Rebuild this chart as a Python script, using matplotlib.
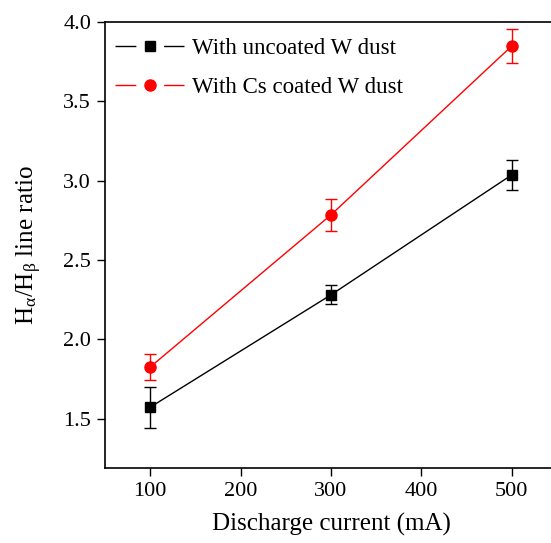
import matplotlib
matplotlib.use("Agg")
import matplotlib.pyplot as plt
from matplotlib.lines import Line2D

# discharge current (mA)
current = [100, 300, 500]

# Halpha/Hbeta line ratio, uncoated W dust
ratio_uncoated = [1.573, 2.281, 3.037]
err_uncoated = [0.13, 0.06, 0.095]

# Halpha/Hbeta line ratio, Cs coated W dust
ratio_cs = [1.826, 2.785, 3.849]
err_cs = [0.083, 0.10, 0.105]

labels = ["With uncoated W dust", "With Cs coated W dust"]

plt.rcParams['font.family'] = ['Liberation Serif', 'DejaVu Serif']
plt.rcParams['mathtext.fontset'] = 'custom'
plt.rcParams['mathtext.rm'] = 'Liberation Serif'
plt.rcParams['mathtext.it'] = 'Liberation Serif'

fig = plt.figure(figsize=(5.51, 5.43), dpi=100)
ax = fig.add_axes([105 / 551, 1 - 468 / 543, 452 / 551, 446 / 543])

ax.errorbar(current, ratio_uncoated, yerr=err_uncoated, color='black', marker='s',
            markersize=7, lw=1, capsize=4.5, elinewidth=1, capthick=1)
ax.errorbar(current, ratio_cs, yerr=err_cs, color='red', marker='o',
            markersize=8, lw=1, capsize=4.5, elinewidth=1, capthick=1)

ax.set_xlim(50, 550)
ax.set_ylim(1.19, 4.0)
ax.set_xticks([100, 200, 300, 400, 500])
ax.set_yticks([1.5, 2.0, 2.5, 3.0, 3.5, 4.0])
ax.yaxis.set_major_formatter(matplotlib.ticker.FormatStrFormatter('%.1f'))
ax.tick_params(direction='out', length=6, width=1, labelsize=16, pad=4)
for s in ax.spines.values():
    s.set_linewidth(1.2)

ax.set_xlabel("Discharge current (mA)", fontsize=18, labelpad=9)
ax.set_ylabel(r"$\mathrm{H_{α}/H_{β}}$ line ratio", fontsize=18, labelpad=14)

# Origin-style legend handles: line, gap, marker, gap, line
dash = (0, (15, 20, 15, 100))
h1 = Line2D([], [], color='black', marker='s', markersize=7, lw=1, linestyle=dash)
h2 = Line2D([], [], color='red', marker='o', markersize=8, lw=1, linestyle=dash)
ax.legend([h1, h2], labels, loc='upper left', frameon=False, fontsize=16.5,
          handlelength=3.0, handletextpad=0.35, labelspacing=0.8,
          borderaxespad=0.3, bbox_to_anchor=(-0.013, 1.0))

fig.savefig("out.png", dpi=100)
